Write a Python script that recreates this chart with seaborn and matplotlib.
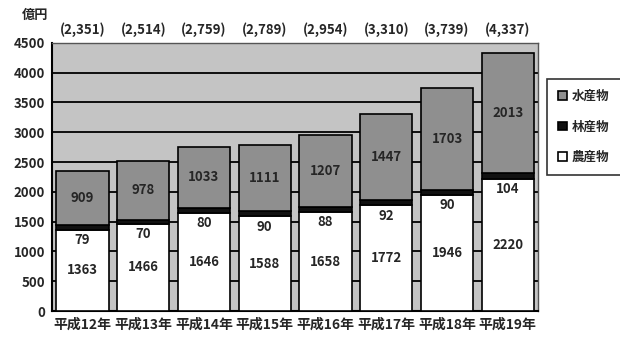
import numpy as np
import pandas as pd
import matplotlib.pyplot as plt
import seaborn as sns

years = ["平成12年", "平成13年", "平成14年", "平成15年", "平成16年", "平成17年", "平成18年", "平成19年"]
agri = [1363, 1466, 1646, 1588, 1658, 1772, 1946, 2220]
forest = [79, 70, 80, 90, 88, 92, 90, 104]
fish = [909, 978, 1033, 1111, 1207, 1447, 1703, 2013]
totals = ["(2,351)", "(2,514)", "(2,759)", "(2,789)", "(2,954)", "(3,310)", "(3,739)", "(4,337)"]

sns.set_theme(style="white")
plt.rcParams["font.family"] = ["Noto Sans CJK JP", "DejaVu Sans"]

df = pd.DataFrame({"year": years, "agri": agri, "forest": forest, "fish": fish})
df["b_fish"] = df["agri"] + df["forest"]

fig = plt.figure(figsize=(6.2, 3.43), dpi=100)
ax = fig.add_axes([0.084, 0.093, 0.784, 0.782])
ax.set_facecolor("#c4c4c4")

bw = 0.86
sns.barplot(data=df, x="year", y="agri", color="white", edgecolor="black",
            linewidth=1.2, width=bw, saturation=1, ax=ax, zorder=3, label="農産物")
sns.barplot(data=df, x="year", y="forest", bottom=df["agri"], color="#111111",
            edgecolor="black", linewidth=1.2, width=bw, saturation=1, ax=ax,
            zorder=3, label="林産物")
sns.barplot(data=df, x="year", y="fish", bottom=df["b_fish"], color="#8f8f8f",
            edgecolor="black", linewidth=1.2, width=bw, saturation=1, ax=ax,
            zorder=3, label="水産物")

ax.set_ylim(0, 4500)
ax.set_yticks(np.arange(0, 4501, 500))
ax.yaxis.grid(True, color="black", linewidth=1.3, zorder=1)
ax.set_axisbelow(True)
ax.set_xlim(-0.5, len(years) - 0.5)
ax.set_xlabel("")
ax.set_ylabel("")
ax.tick_params(axis="y", length=0, labelsize=9.5, pad=5)
ax.tick_params(axis="x", length=0, labelsize=10, pad=5)
for t in ax.get_xticklabels() + ax.get_yticklabels():
    t.set_fontweight("bold")
for s in ax.spines.values():
    s.set_color("#555555")
    s.set_linewidth(1.0)
ax.spines["left"].set_color("black")
ax.spines["left"].set_linewidth(1.5)
ax.spines["bottom"].set_color("black")
ax.spines["bottom"].set_linewidth(1.5)

fs = 9.5
for i in range(len(years)):
    ax.text(i, agri[i] / 2, str(agri[i]), ha="center", va="center",
            fontsize=fs, fontweight="bold", zorder=5)
    ax.text(i, agri[i] - 170, str(forest[i]), ha="center", va="center",
            fontsize=fs, fontweight="bold", zorder=5)
    ax.text(i, agri[i] + forest[i] + fish[i] / 2, str(fish[i]), ha="center",
            va="center", fontsize=fs, fontweight="bold", zorder=5)
    ax.text(i, 4600, totals[i], ha="center", va="bottom", fontsize=fs,
            fontweight="bold", clip_on=False)

fig.text(0.035, 0.955, "億円", ha="left", va="center", fontsize=9.5, fontweight="bold")

handles, labels = ax.get_legend_handles_labels()
leg = ax.legend(handles[::-1], labels[::-1], loc="upper left",
                bbox_to_anchor=(1.005, 0.89), frameon=True,
                prop={"size": 9, "weight": "bold"},
                handlelength=0.7, handleheight=0.7, labelspacing=1.4,
                borderpad=0.9, handletextpad=0.4, fancybox=False)
leg.get_frame().set_edgecolor("black")
leg.get_frame().set_linewidth(1.2)

fig.savefig("out.png", dpi=100, facecolor="white")
